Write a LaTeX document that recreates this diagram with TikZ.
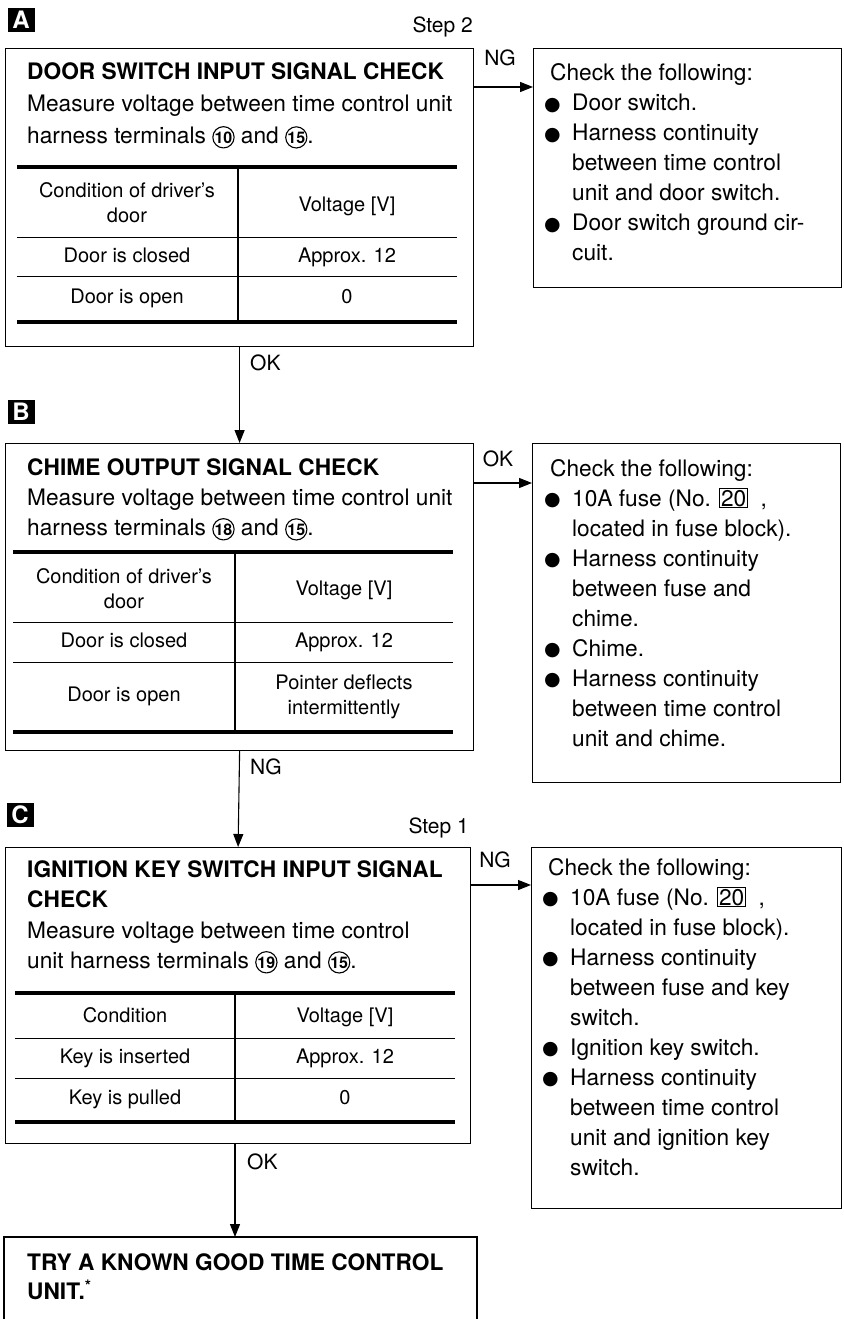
\documentclass[tikz,border=0pt]{standalone}
\usepackage{fontspec}
\setmainfont{TeX Gyre Heros}
\newfontfamily\symf{DejaVu Sans}
\usetikzlibrary{arrows.meta}
\newcommand\cnum[1]{\tikz[baseline=(cn.base),x=1pt,y=1pt]\node[draw,circle,line width=1.1pt,inner sep=0pt,minimum size=19.5pt,font=\fontsize{16}{16}\selectfont\bfseries](cn){#1};}
\newcommand\bul{\makebox[28pt][l]{\raisebox{0.5pt}{\symf\fontsize{19}{19}\selectfont ●}}}
\newcommand\fusebox[1]{{\setlength\fboxsep{1pt}\setlength\fboxrule{0.7pt}\fbox{#1}}}
\tikzset{
  box/.style={draw,line width=1.2pt,inner sep=0pt,anchor=north west},
  body/.style={inner sep=0pt,anchor=base west,font=\fontsize{22.7}{30}\selectfont},
  ttl/.style={body,font=\fontsize{22.7}{30}\selectfont\bfseries},
  cell/.style={inner sep=0pt,align=center,font=\fontsize{20}{25}\selectfont,text height=14.5pt,text depth=4pt},
  cellb/.style={inner sep=0pt,align=center,font=\fontsize{20}{25}\selectfont},
  thick rule/.style={line width=3.4pt},
  thin rule/.style={line width=1pt},
  arr/.style={line width=1.1pt,-{Triangle[length=13pt,width=10pt]}},
  lbl/.style={inner sep=0pt,font=\fontsize{21}{21}\selectfont},
  tag/.style={fill=black,text=white,inner sep=0pt,minimum width=27pt,minimum height=24pt,font=\fontsize{24}{24}\selectfont\bfseries},
  rtext/.style={inner sep=0pt,anchor=base west,font=\fontsize{22.7}{30}\selectfont}
}
\begin{document}
\begin{tikzpicture}[x=1pt,y=-1pt]
\useasboundingbox (0,0) rectangle (843,1319);
\fill[white] (0,0) rectangle (843,1319);

% ---------- A ----------
\node[tag] (tagA) at (21,20) {A};
\node[lbl,anchor=base east] (step2) at (473,33) {Step 2};
\node[box,minimum width=468pt,minimum height=298pt] (boxA) at (5,48) {};
\node[ttl] (a1) at (27,80) {DOOR SWITCH INPUT SIGNAL CHECK};
\node[body] (a2) at (27,112) {Measure voltage between time control unit};
\node[body] (a3) at (27,143) {harness terminals \cnum{10} and \cnum{15}.};
\draw[thick rule] (17,167) -- (457,167);
\draw[thin rule] (17,237) -- (457,237);
\draw[thin rule] (17,276) -- (457,276);
\draw[thick rule] (17,322) -- (457,322);
\draw[line width=1.2pt] (238,167) -- (238,322);
\node[cellb] (ah1) at (127,203) {Condition of driver's\\door};
\node[cell] (ah2) at (347,206) {Voltage [V]};
\node[cell] (ar1) at (127,257) {Door is closed};
\node[cell] (ar2) at (347,257) {Approx. 12};
\node[cell] (ar3) at (127,298) {Door is open};
\node[cell] (ar4) at (347,298) {0};

\node[box,minimum width=308pt,minimum height=239pt] (rA) at (533,48) {};
\node[rtext] (tA) at (544,81) {\begin{tabular}[t]{@{}l@{}l@{}}
\multicolumn{2}{@{}l@{}}{\hspace*{6pt}Check the following:}\\
\bul & Door switch.\\
\bul & Harness continuity\\
 & between time control\\
 & unit and door switch.\\
\bul & Door switch ground cir-\\
 & cuit.
\end{tabular}};
\coordinate (yA) at (0,87);
\draw[arr] (boxA.east |- yA) -- (rA.west |- yA);
\node[lbl] (ngA) at (500,58) {NG};

% ---------- A -> B ----------
\node[box,minimum width=468pt,minimum height=307pt] (boxB) at (5,443) {};
\draw[arr] (boxA.south) -- (boxB.north);
\node[lbl,anchor=west] (okAB) at (250,363) {OK};

% ---------- B ----------
\node[tag] (tagB) at (21,412) {B};
\node[ttl] (b1) at (27,475) {CHIME OUTPUT SIGNAL CHECK};
\node[body] (b2) at (27,505) {Measure voltage between time control unit};
\node[body] (b3) at (27,535) {harness terminals \cnum{18} and \cnum{15}.};
\draw[thick rule] (13,552) -- (453,552);
\draw[thin rule] (13,622) -- (453,622);
\draw[thin rule] (13,662) -- (453,662);
\draw[thick rule] (13,732) -- (453,732);
\draw[line width=1.2pt] (235,552) -- (235,732);
\node[cellb] (bh1) at (124,589) {Condition of driver's\\door};
\node[cell] (bh2) at (344,590) {Voltage [V]};
\node[cell] (br1) at (124,642) {Door is closed};
\node[cell] (br2) at (344,642) {Approx. 12};
\node[cell] (br3) at (124,696) {Door is open};
\node[cellb] (br4) at (344,697) {Pointer deflects\\intermittently};

\node[box,minimum width=308pt,minimum height=339pt] (rB) at (532,443) {};
\node[rtext] (tB) at (544,476) {\begin{tabular}[t]{@{}l@{}l@{}}
\multicolumn{2}{@{}l@{}}{\hspace*{6pt}Check the following:}\\
\bul & 10A fuse (No. \fusebox{20}\ \ ,\\
 & located in fuse block).\\
\bul & Harness continuity\\
 & between fuse and\\
 & chime.\\
\bul & Chime.\\
\bul & Harness continuity\\
 & between time control\\
 & unit and chime.
\end{tabular}};
\coordinate (yB) at (0,483);
\draw[arr] (boxB.east |- yB) -- (rB.west |- yB);
\node[lbl] (okB) at (498,459) {OK};

% ---------- B -> C ----------
\node[box,minimum width=465pt,minimum height=296pt] (boxC) at (5,847) {};
\draw[arr] (boxB.south) -- (boxC.north);
\node[lbl,anchor=west] (ngBC) at (250,767) {NG};

% ---------- C ----------
\node[tag] (tagC) at (20,815) {C};
\node[lbl,anchor=base east] (step1) at (469,833) {Step 1};
\node[ttl] (c1) at (27,877) {IGNITION KEY SWITCH INPUT SIGNAL};
\node[ttl] (c2) at (27,907) {CHECK};
\node[body] (c3) at (27,938) {Measure voltage between time control};
\node[body] (c4) at (27,968) {unit harness terminals \cnum{19} and \cnum{15}.};
\draw[thick rule] (15,993) -- (455,993);
\draw[thin rule] (15,1038) -- (455,1038);
\draw[thin rule] (15,1078) -- (455,1078);
\draw[thick rule] (15,1122) -- (455,1122);
\draw[line width=1.2pt] (235,993) -- (235,1122);
\node[cell] (ch1) at (125,1017) {Condition};
\node[cell] (ch2) at (345,1017) {Voltage [V]};
\node[cell] (cr1) at (125,1058) {Key is inserted};
\node[cell] (cr2) at (345,1058) {Approx. 12};
\node[cell] (cr3) at (125,1099) {Key is pulled};
\node[cell] (cr4) at (345,1099) {0};

\node[box,minimum width=310pt,minimum height=361pt] (rC) at (531,847) {};
\node[rtext] (tC) at (542,875) {\begin{tabular}[t]{@{}l@{}l@{}}
\multicolumn{2}{@{}l@{}}{\hspace*{6pt}Check the following:}\\
\bul & 10A fuse (No. \fusebox{20}\ \ ,\\
 & located in fuse block).\\
\bul & Harness continuity\\
 & between fuse and key\\
 & switch.\\
\bul & Ignition key switch.\\
\bul & Harness continuity\\
 & between time control\\
 & unit and ignition key\\
 & switch.
\end{tabular}};
\coordinate (yC) at (0,885);
\draw[arr] (boxC.east |- yC) -- (rC.west |- yC);
\node[lbl] (ngC) at (495,860) {NG};

% ---------- D ----------
\coordinate (dTL) at (4,1237);
\coordinate (dTR) at (477,1237);
\draw[line width=1.2pt] (4,1319) -- (dTL) -- (dTR) -- (477,1319);
\coordinate (dTop) at (235,1237);
\draw[arr] (boxC.south -| dTop) -- (dTop);
\node[lbl,anchor=west] (okCD) at (247,1162) {OK};
\node[ttl] (d1) at (27,1270) {TRY A KNOWN GOOD TIME CONTROL};
\node[ttl] (d2) at (27,1299) {UNIT.\textsuperscript{*}};
\end{tikzpicture}
\end{document}
